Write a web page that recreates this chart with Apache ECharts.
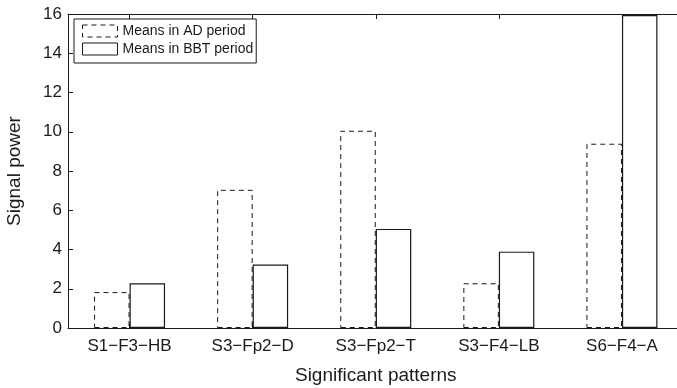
<!DOCTYPE html>
<html>
<head>
<meta charset="utf-8">
<script src="https://cdn.jsdelivr.net/npm/echarts@6/dist/echarts.min.js"></script>
<style>
  html, body { margin: 0; padding: 0; background: #fff; overflow: hidden; }
  /* the original figure is cut off on the right, so the canvas runs past the window */
  #chart { width: 690px; height: 388px; }
</style>
</head>
<body>
<div id="chart"></div>
<script>
const categories = ['S1\u2212F3\u2212HB', 'S3\u2212Fp2\u2212D', 'S3\u2212Fp2\u2212T', 'S3\u2212F4\u2212LB', 'S6\u2212F4\u2212A'];
const adMeans = [1.83, 7.04, 10.05, 2.28, 9.39];
const bbtMeans = [2.28, 3.23, 5.05, 3.89, 15.95];
const yTicks = [0, 2, 4, 6, 8, 10, 12, 14, 16];

const chart = echarts.init(document.getElementById('chart'));
const font = 'Liberation Sans, Arial, Helvetica, sans-serif';
const ink = '#1a1a1a';

const option = {
  animation: false,
  textStyle: { fontFamily: font },
  grid: { left: 68, top: 14, bottom: 60, right: 6.5, outerBoundsMode: 'none', containLabel: false },
  legend: {
    orient: 'vertical',
    left: 74,
    top: 19,
    icon: 'rect',
    itemWidth: 35,
    itemHeight: 12,
    itemGap: 4,
    padding: [5, 3, 7, 8],
    borderColor: ink,
    borderWidth: 1,
    backgroundColor: '#fff',
    textStyle: { fontFamily: font, fontSize: 14, lineHeight: 12, color: ink },
    data: [
      { name: 'Means in AD period', itemStyle: { color: '#fff', borderColor: ink, borderWidth: 1, borderType: [5, 4] } },
      { name: 'Means in BBT period', itemStyle: { color: '#fff', borderColor: ink, borderWidth: 1, borderType: 'solid' } }
    ]
  },
  xAxis: [
    {
      type: 'category',
      data: categories,
      name: 'Significant patterns',
      nameLocation: 'middle',
      nameGap: 38,
      nameTextStyle: { fontFamily: font, fontSize: 19, color: ink },
      axisLine: { lineStyle: { color: ink, width: 1 } },
      axisTick: { show: true, inside: true, alignWithLabel: true, length: 5, lineStyle: { color: ink } },
      axisLabel: { fontFamily: font, fontSize: 17, color: ink, margin: 10 },
      splitLine: { show: false }
    },
    {
      type: 'category',
      data: categories,
      position: 'top',
      axisLine: { lineStyle: { color: ink, width: 1 } },
      axisTick: { show: true, inside: true, alignWithLabel: true, length: 5, lineStyle: { color: ink } },
      axisLabel: { show: false },
      splitLine: { show: false }
    }
  ],
  yAxis: {
    type: 'value',
    min: yTicks[0],
    max: yTicks[yTicks.length - 1],
    interval: 2,
    name: 'Signal power',
    nameLocation: 'middle',
    nameGap: 44,
    nameTextStyle: { fontFamily: font, fontSize: 19, color: ink },
    axisLine: { show: true, lineStyle: { color: ink, width: 1 } },
    axisTick: { show: true, inside: true, length: 5, lineStyle: { color: ink } },
    axisLabel: { fontFamily: font, fontSize: 17, color: ink, margin: 6 },
    splitLine: { show: false }
  },
  series: [
    {
      name: 'Means in AD period',
      type: 'bar',
      data: adMeans,
      barWidth: 35.5,
      barGap: '0%',
      itemStyle: { color: 'rgba(255,255,255,0)', borderColor: ink, borderWidth: 1, borderType: [5, 4] }
    },
    {
      name: 'Means in BBT period',
      type: 'bar',
      data: bbtMeans,
      barWidth: 35.5,
      barGap: '0%',
      itemStyle: { color: 'rgba(255,255,255,0)', borderColor: ink, borderWidth: 1.2 }
    }
  ]
};

chart.setOption(option);
</script>
</body>
</html>
